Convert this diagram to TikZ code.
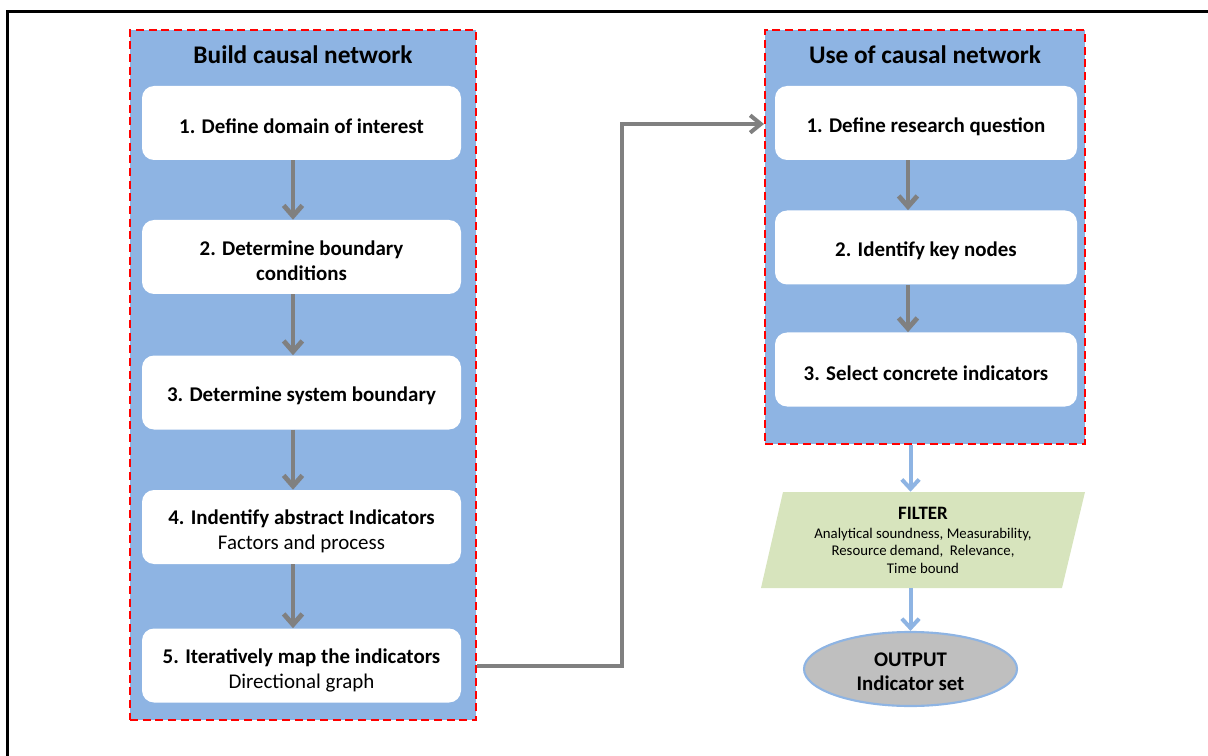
\documentclass[tikz,border=0pt]{standalone}
\usepackage{fontspec}
\setmainfont{Carlito}
\usetikzlibrary{arrows.meta,shapes.geometric,calc}
\definecolor{cblue}{HTML}{8EB4E3}
\definecolor{cgreen}{HTML}{D7E4BD}
\definecolor{cgray}{HTML}{808080}
\definecolor{cell}{HTML}{BFBFBF}
\begin{document}
\begin{tikzpicture}[x=0.75pt,y=-0.75pt,
  container/.style={draw=red, line width=1.5pt, dash pattern=on 6pt off 3.5pt, fill=cblue, inner sep=0pt},
  titletext/.style={font=\bfseries\fontsize{19}{22}\selectfont, inner sep=0pt},
  stepbox/.style={fill=white, rounded corners=9pt, minimum height=74*0.75pt, inner sep=0pt},
  steptext/.style={align=center, inner sep=0pt, font=\fontsize{15.7}{18.75}\selectfont},
  graystep/.style={draw=cgray, line width=3.6pt, -{Straight Barb[length=8pt,width=14pt]}},
  bluestep/.style={draw=cblue, line width=3pt, -{Straight Barb[length=7pt,width=13pt]}},
  link/.style={draw=cgray, line width=3pt, -{Straight Barb[length=8pt,width=13pt]}},
]
\useasboundingbox (0,0) rectangle (1208,756);
% outer frame
\draw[line width=2.4pt, line cap=rect] (7.5,756) -- (7.5,11.5) -- (1208,11.5);

% left container
\node[container, minimum width=346*0.75pt, minimum height=690*0.75pt] (lc) at (303,375) {};
\node[titletext] (lt) at (303,55) {Build causal network};
\node[stepbox, minimum width=319*0.75pt] (l1) at (301.5,123) {};
\node[stepbox, minimum width=319*0.75pt] (l2) at (301.5,257) {};
\node[stepbox, minimum width=319*0.75pt] (l3) at (301.5,392.5) {};
\node[stepbox, minimum width=319*0.75pt] (l4) at (301.5,527) {};
\node[stepbox, minimum width=319*0.75pt] (l5) at (301.5,665.5) {};
\node[steptext] (l1t) at ($(l1)+(0,3.5)$) {\bfseries 1. Define domain of interest};
\node[steptext] (l2t) at ($(l2)+(0,3.5)$) {\bfseries 2. Determine boundary\\\bfseries conditions};
\node[steptext] (l3t) at ($(l3)+(0,3.5)$) {\bfseries 3. Determine system boundary};
\node[steptext] (l4t) at ($(l4)+(0,4.5)$) {\bfseries 4. Indentify abstract Indicators\\Factors and process};
\node[steptext] (l5t) at ($(l5)+(0,4.5)$) {\bfseries 5. Iteratively map the indicators\\Directional graph};
\draw[graystep] (l1.south -| 293,0) -- (l2.north -| 293,0);
\draw[graystep] (l2.south -| 293,0) -- (l3.north -| 293,0);
\draw[graystep] (l3.south -| 293,0) -- (l4.north -| 293,0);
\draw[graystep] (l4.south -| 293,0) -- (l5.north -| 293,0);

% right container
\node[container, minimum width=320*0.75pt, minimum height=414*0.75pt] (rc) at (925,237) {};
\node[titletext] (rt) at (925,55) {Use of causal network};
\node[stepbox, minimum width=302*0.75pt] (r1) at (926,123) {};
\node[stepbox, minimum width=302*0.75pt] (r2) at (926,247.5) {};
\node[stepbox, minimum width=302*0.75pt] (r3) at (926,369.5) {};
\node[steptext] (r1t) at ($(r1)+(0,3.5)$) {\bfseries 1. Define research question};
\node[steptext] (r2t) at ($(r2)+(0,3.5)$) {\bfseries 2. Identify key nodes};
\node[steptext] (r3t) at ($(r3)+(0,3.5)$) {\bfseries 3. Select concrete indicators};
\draw[graystep] (r1.south -| 908,0) -- (r2.north -| 908,0);
\draw[graystep] (r2.south -| 908,0) -- (r3.north -| 908,0);

% link between containers
\coordinate (bend) at (622,0);
\draw[link] (lc.east |- l5) -- (bend |- l5) -- (bend |- 0,124) -- (rc.west |- 0,124);

% filter
\fill[cgreen] (783,492) -- (1085,492) -- (1062,588) -- (761,588) -- cycle;
\node[minimum width=301*0.75pt, minimum height=96*0.75pt, inner sep=0pt] (filter) at (923,540) {};
\node[align=center, inner sep=0pt, font=\fontsize{11.1}{13}\selectfont] (filtert) at ($(filter)+(0,0.5)$)
  {{\bfseries\fontsize{14.2}{16}\selectfont FILTER}\\[1pt]Analytical soundness, Measurability,\\Resource demand,\ \ Relevance,\\Time bound};

% output
\node[ellipse, draw=cblue, line width=1.6pt, fill=cell, minimum width=213*0.75pt, minimum height=74*0.75pt, inner sep=0pt] (out) at (910.5,669) {};
\node[align=center, inner sep=0pt, font=\bfseries\fontsize{15.6}{18}\selectfont] (outt) at ($(out)+(0,3)$) {OUTPUT\\Indicator set};

\draw[bluestep] (rc.south -| out.north) -- (filter.north -| out.north);
\draw[bluestep] (filter.south -| out.north) -- (out.north);
\end{tikzpicture}
\end{document}
